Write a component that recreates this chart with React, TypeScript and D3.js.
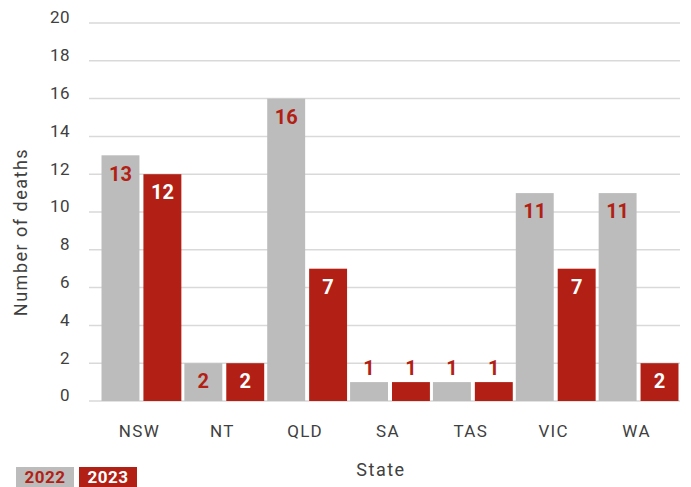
import React, { useEffect, useRef } from "react";
import * as d3 from "d3";

// chart data
const states = ["NSW", "NT", "QLD", "SA", "TAS", "VIC", "WA"];
const years = ["2022", "2023"];
const deaths2022 = [13, 2, 16, 1, 1, 11, 11];
const deaths2023 = [12, 2, 7, 1, 1, 7, 2];
const yTicks = [0, 2, 4, 6, 8, 10, 12, 14, 16, 18, 20];

const GREY = "#bcbcbc";
const RED = "#b21f15";
const FONT = "Roboto, 'DejaVu Sans', sans-serif";

const App: React.FC = () => {
  const svgRef = useRef<SVGSVGElement | null>(null);

  useEffect(() => {
    if (!svgRef.current) return;
    const width = 691;
    const height = 487;
    const margin = { top: 23, right: 11, bottom: 86, left: 89 };
    const innerWidth = width - margin.left - margin.right;
    const innerHeight = height - margin.top - margin.bottom;

    d3.select(svgRef.current).selectAll("*").remove();

    const root = d3
      .select(svgRef.current)
      .attr("width", width)
      .attr("height", height)
      .attr("viewBox", `0 0 ${width} ${height}`);

    const svg = root
      .append("g")
      .attr("transform", `translate(${margin.left},${margin.top})`);

    const yScale = d3.scaleLinear().domain([0, 20]).range([innerHeight, 0]);

    const x0 = d3
      .scaleBand<string>()
      .domain(states)
      .range([11, innerWidth]);

    const x1 = d3
      .scaleBand<string>()
      .domain(years)
      .range([0, x0.bandwidth()])
      .paddingInner(0.095)
      .paddingOuter(0.036);

    // gridlines
    svg
      .append("g")
      .selectAll("line")
      .data(yTicks)
      .enter()
      .append("line")
      .attr("x1", 0)
      .attr("x2", innerWidth)
      .attr("y1", (d) => yScale(d))
      .attr("y2", (d) => yScale(d))
      .attr("stroke", "#d9d9d9")
      .attr("stroke-width", 1.5);

    // y tick labels
    svg
      .append("g")
      .selectAll("text")
      .data(yTicks)
      .enter()
      .append("text")
      .attr("x", -19)
      .attr("y", (d) => yScale(d) - 4)
      .attr("text-anchor", "end")
      .attr("dominant-baseline", "middle")
      .attr("fill", "#404040")
      .attr("font-family", FONT)
      .attr("font-size", "17px")
      .attr("letter-spacing", "0.5px")
      .text((d) => d);

    const rows = states.map((s, i) => ({
      state: s,
      values: [
        { year: years[0], value: deaths2022[i] },
        { year: years[1], value: deaths2023[i] },
      ],
    }));

    const groups = svg
      .selectAll(".group")
      .data(rows)
      .enter()
      .append("g")
      .attr("class", "group")
      .attr("transform", (d) => `translate(${x0(d.state)},0)`);

    groups
      .selectAll("rect")
      .data((d) => d.values)
      .enter()
      .append("rect")
      .attr("x", (d) => x1(d.year) as number)
      .attr("y", (d) => yScale(d.value))
      .attr("width", x1.bandwidth())
      .attr("height", (d) => innerHeight - yScale(d.value))
      .attr("fill", (d) => (d.year === "2022" ? GREY : RED));

    // value labels
    groups
      .selectAll("text")
      .data((d) => d.values)
      .enter()
      .append("text")
      .attr("x", (d) => (x1(d.year) as number) + x1.bandwidth() / 2)
      .attr("y", (d) =>
        d.value < 2 ? yScale(d.value) - 12 : yScale(d.value) + 20
      )
      .attr("text-anchor", "middle")
      .attr("dominant-baseline", "middle")
      .attr("font-family", FONT)
      .attr("font-weight", "bold")
      .attr("font-size", "20px")
      .attr("fill", (d) => (d.year === "2023" && d.value >= 2 ? "#ffffff" : RED))
      .text((d) => d.value);

    // category labels
    svg
      .append("g")
      .selectAll("text")
      .data(states)
      .enter()
      .append("text")
      .attr("x", (d) => (x0(d) as number) + x0.bandwidth() / 2 - 2)
      .attr("y", innerHeight + 32)
      .attr("text-anchor", "middle")
      .attr("dominant-baseline", "middle")
      .attr("fill", "#404040")
      .attr("font-family", FONT)
      .attr("font-size", "17px")
      .attr("letter-spacing", "1.3px")
      .text((d) => d);

    // axis titles
    root
      .append("text")
      .attr("x", 381)
      .attr("y", 471)
      .attr("text-anchor", "middle")
      .attr("dominant-baseline", "middle")
      .attr("fill", "#404040")
      .attr("font-family", FONT)
      .attr("font-size", "18px")
      .attr("letter-spacing", "1.5px")
      .text("State");

    root
      .append("text")
      .attr("transform", "translate(22,232) rotate(-90)")
      .attr("text-anchor", "middle")
      .attr("dominant-baseline", "middle")
      .attr("fill", "#404040")
      .attr("font-family", FONT)
      .attr("font-size", "18px")
      .attr("letter-spacing", "1.5px")
      .text("Number of deaths");

    // legend
    const legend = root.append("g").attr("transform", "translate(16,467)");
    years.forEach((y, i) => {
      const g = legend.append("g").attr("transform", `translate(${i * 63},0)`);
      g.append("rect")
        .attr("width", 58)
        .attr("height", 22)
        .attr("fill", i === 0 ? GREY : RED);
      g.append("text")
        .attr("x", 29)
        .attr("y", 12)
        .attr("text-anchor", "middle")
        .attr("dominant-baseline", "middle")
        .attr("font-family", FONT)
        .attr("font-weight", "bold")
        .attr("font-size", "17px")
        .attr("letter-spacing", "0.5px")
        .attr("fill", i === 0 ? RED : "#ffffff")
        .text(y);
    });
  }, []);

  return (
    <div style={{ position: "absolute", left: 0, top: 0 }}>
      <svg ref={svgRef} />
    </div>
  );
};

export default App;
